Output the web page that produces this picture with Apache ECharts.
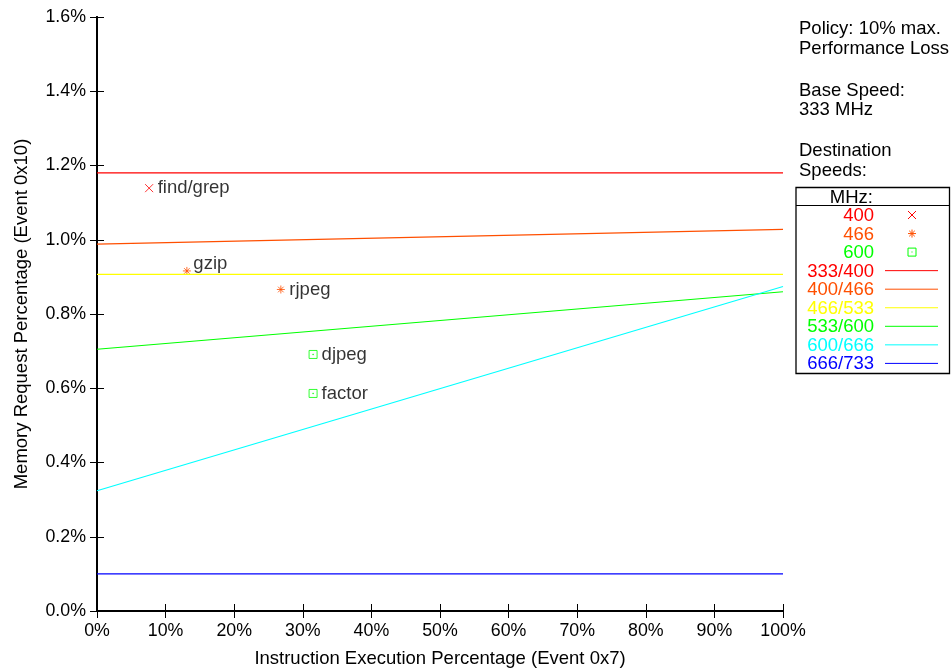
<!DOCTYPE html>
<html>
<head>
<meta charset="utf-8">
<script src="https://cdn.jsdelivr.net/npm/echarts@6/dist/echarts.min.js"></script>
<style>
  html, body { margin: 0; padding: 0; background: #fff; }
  #chart { width: 952px; height: 669px; }
</style>
</head>
<body>
<div id="chart"></div>
<script>
// Axis ticks
var xTicks = [0, 10, 20, 30, 40, 50, 60, 70, 80, 90, 100];
var yTicks = [0, 0.2, 0.4, 0.6, 0.8, 1.0, 1.2, 1.4, 1.6];

// Frequency-transition threshold lines: value at x=0% and at x=100%
var lineNames  = ['333/400', '400/466', '466/533', '533/600', '600/666', '666/733'];
var lineColors = ['#ff0000', '#ff4f00', '#ffff00', '#00ff00', '#00ffff', '#0000ff'];
var lineStart  = [1.180, 0.988, 0.907, 0.705, 0.324, 0.100];
var lineEnd    = [1.180, 1.028, 0.907, 0.860, 0.874, 0.100];

// Benchmarks: [instruction %, memory request %]
var benchNames  = ['find/grep', 'gzip', 'rjpeg', 'djpeg', 'factor'];
var benchX      = [7.6, 13.1, 26.8, 31.5, 31.5];
var benchY      = [1.139, 0.916, 0.866, 0.691, 0.586];
var benchSpeed  = ['400', '466', '466', '600', '600'];

// Destination speed markers
var speedNames  = ['400', '466', '600'];
var speedColors = ['#ff0000', '#ff4f00', '#00ff00'];

var FONT = 'Liberation Sans, Arial, sans-serif';
var TEXT_SIZE = 18.5;
var TICK_SIZE = 17.8;

var SYM_X = 'path://M0,0L10,10M10,0L0,10';
var SYM_STAR = 'path://M5,0L5,10M0,5L10,5M1.5,1.5L8.5,8.5M8.5,1.5L1.5,8.5';
var SYM_BOX = 'path://M0,0L10,0L10,10L0,10ZM4.6,4.6L5.4,4.6L5.4,5.4L4.6,5.4Z';
var speedSymbols = [SYM_X, SYM_STAR, SYM_BOX];

var series = [];
lineNames.forEach(function (n, i) {
  series.push({
    name: n, type: 'line', xAxisIndex: 0, yAxisIndex: 0,
    data: [[0, lineStart[i]], [100, lineEnd[i]]],
    symbol: 'none', silent: true,
    lineStyle: { color: lineColors[i], width: 1.2 }
  });
});

speedNames.forEach(function (s, si) {
  var pts = [];
  benchNames.forEach(function (b, bi) {
    if (benchSpeed[bi] === s) {
      pts.push({
        value: [benchX[bi], benchY[bi]],
        name: b,
        label: b === 'gzip'
          ? { position: [11, -12] }
          : { position: 'right' }
      });
    }
  });
  series.push({
    name: s, type: 'scatter', xAxisIndex: 0, yAxisIndex: 0,
    data: pts,
    symbol: speedSymbols[si], symbolSize: 8,
    itemStyle: { color: 'transparent', borderColor: speedColors[si], borderWidth: 1 },
    label: {
      show: true, formatter: '{b}', color: '#000',
      fontFamily: FONT, fontSize: TEXT_SIZE, distance: 4
    }
  });
});

// Key panel on the right
var graphics = [];
function seg(x1, y1, x2, y2, c) {
  graphics.push({ type: 'line', shape: { x1: x1, y1: y1, x2: x2, y2: y2 },
    style: { stroke: c, lineWidth: 1 } });
}
function txt(t, x, y, c, align) {
  graphics.push({ type: 'text', x: x, y: y,
    style: { text: t, font: TEXT_SIZE + 'px ' + FONT, fill: c, align: align || 'left', verticalAlign: 'middle' } });
}
var infoLines = [
  ['Policy: 10% max.', 28.5], ['Performance Loss', 48.5],
  ['Base Speed:', 91], ['333 MHz', 110],
  ['Destination', 151], ['Speeds:', 171]
];
infoLines.forEach(function (t) { txt(t[0], 799, t[1], '#000'); });

var boxL = 796, boxT = 187.5, boxR = 949.5, boxB = 373.5, sepY = 205.5, rowH = 18.55;
var rows = [];
speedNames.forEach(function (s, i) { rows.push({ t: s, c: speedColors[i], sym: i }); });
lineNames.forEach(function (s, i) { rows.push({ t: s, c: lineColors[i], line: true }); });
graphics.push({ type: 'rect', shape: { x: boxL, y: boxT, width: boxR - boxL, height: boxB - boxT },
  style: { fill: 'none', stroke: '#000', lineWidth: 1.3 } });
seg(boxL, sepY, boxR, sepY, '#000');
txt('MHz:', 873, 197.5, '#000', 'right');
rows.forEach(function (r, i) {
  var cy = 215 + i * rowH;
  txt(r.t, 874, cy + 1, r.c, 'right');
  if (r.line) {
    seg(885, cy, 938, cy, r.c);
  } else {
    var x0 = 908, y0 = cy - 4;
    if (r.sym === 0) {
      seg(x0, y0, x0 + 8, y0 + 8, r.c); seg(x0 + 8, y0, x0, y0 + 8, r.c);
    } else if (r.sym === 1) {
      seg(x0 + 4, y0, x0 + 4, y0 + 8, r.c); seg(x0, y0 + 4, x0 + 8, y0 + 4, r.c);
      seg(x0 + 1.2, y0 + 1.2, x0 + 6.8, y0 + 6.8, r.c); seg(x0 + 6.8, y0 + 1.2, x0 + 1.2, y0 + 6.8, r.c);
    } else {
      graphics.push({ type: 'rect', shape: { x: x0, y: y0, width: 8, height: 8 },
        style: { fill: 'none', stroke: r.c, lineWidth: 1 } });
      graphics.push({ type: 'rect', shape: { x: x0 + 3.5, y: y0 + 3.5, width: 1, height: 1 },
        style: { fill: r.c } });
    }
  }
});

var axisLineStyle = { show: true, lineStyle: { color: '#000', width: 2 } };
var tickStyle = { show: true, inside: true, length: 7, lineStyle: { color: '#000', width: 1 } };

var chart = echarts.init(document.getElementById('chart'), null, { renderer: 'canvas' });
chart.setOption({
  animation: false,
  backgroundColor: '#fff',
  grid: { left: 97, top: 17, width: 686, height: 594, containLabel: false, outerBoundsMode: 'none' },
  xAxis: [{
    type: 'value', min: xTicks[0], max: xTicks[xTicks.length - 1], interval: 10,
    position: 'bottom',
    name: 'Instruction Execution Percentage (Event 0x7)',
    nameLocation: 'middle', nameGap: 38,
    nameTextStyle: { fontFamily: FONT, fontSize: TEXT_SIZE, color: '#000' },
    axisLine: axisLineStyle, axisTick: tickStyle, splitLine: { show: false },
    axisLabel: { formatter: '{value}%', fontFamily: FONT, fontSize: TICK_SIZE, color: '#000', margin: 11 }
  }, {
    type: 'value', min: 0, max: 100, interval: 10, position: 'top',
    axisLine: axisLineStyle, axisTick: tickStyle, splitLine: { show: false },
    axisLabel: { show: false }
  }],
  yAxis: [{
    type: 'value', min: yTicks[0], max: yTicks[yTicks.length - 1], interval: 0.2,
    position: 'left',
    name: 'Memory Request Percentage (Event 0x10)',
    nameLocation: 'middle', nameGap: 66,
    nameTextStyle: { fontFamily: FONT, fontSize: TEXT_SIZE, color: '#000' },
    axisLine: axisLineStyle, axisTick: tickStyle, splitLine: { show: false },
    axisLabel: {
      formatter: function (v) { return v.toFixed(1) + '%'; },
      fontFamily: FONT, fontSize: TICK_SIZE, color: '#000', margin: 11
    }
  }, {
    type: 'value', min: 0, max: 1.6, interval: 0.2, position: 'right',
    axisLine: axisLineStyle, axisTick: tickStyle, splitLine: { show: false },
    axisLabel: { show: false }
  }],
  series: series,
  graphic: graphics
});
</script>
</body>
</html>
